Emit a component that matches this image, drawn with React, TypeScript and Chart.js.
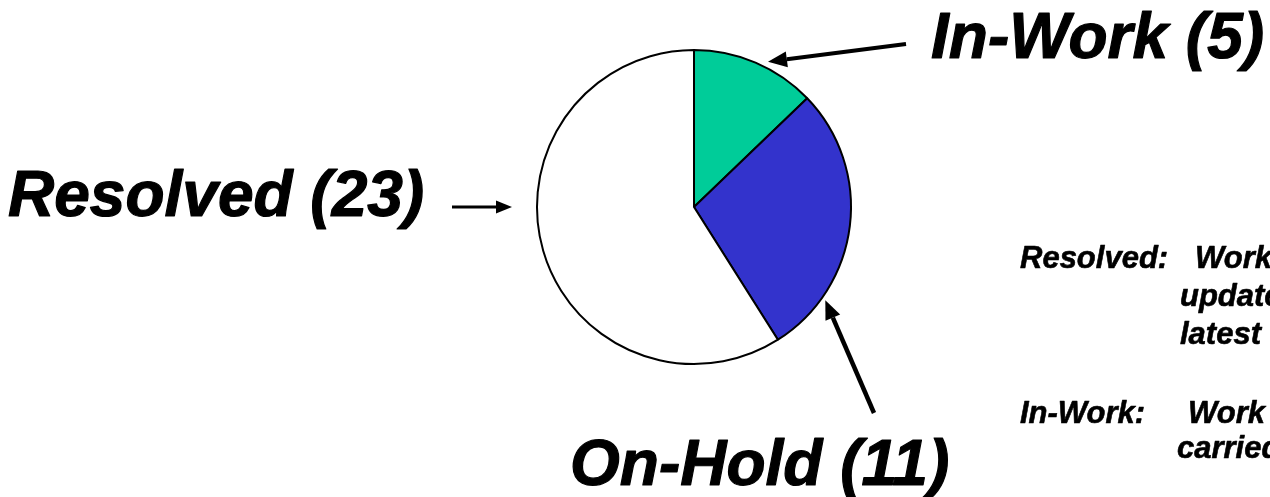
import React, { useEffect, useRef } from "react";
import { Chart, registerables } from "chart.js";

Chart.register(...registerables);

// ---- data ----
const categories = ["In-Work", "On-Hold", "Resolved"];
const counts = [5, 11, 23];
const sliceColors = ["#00CC99", "#3333CC", "#FFFFFF"];

// side notes (visible portion of the explanation text)
const noteHeads = ["Resolved:", "In-Work:"];
const noteFirstWords = ["Work", "Work"];
const noteContinuations = [["updated", "latest"], ["carried"]];

const W = 1270;
const H = 497;

type Callout = {
  index: number;
  frac: number;
  gap: number;
  tail: [number, number];
  textPos: [number, number];
  lineWidth: number;
  headLen: number;
  headHalf: number;
};

const callouts: Callout[] = [
  { index: 0, frac: 0.585, gap: 6, tail: [906, 44], textPos: [931, 58], lineWidth: 4, headLen: 19, headHalf: 8 },
  { index: 1, frac: 0.78, gap: 4, tail: [874, 413], textPos: [570, 485], lineWidth: 4.5, headLen: 19, headHalf: 8 },
  { index: 2, frac: 0.576, gap: 25, tail: [452, 207], textPos: [8, 216], lineWidth: 3, headLen: 16, headHalf: 6.5 },
];

function drawArrow(ctx: CanvasRenderingContext2D, x0: number, y0: number, x1: number, y1: number, lw: number, hl: number, hh: number) {
  const ang = Math.atan2(y1 - y0, x1 - x0);
  const bx = x1 - Math.cos(ang) * hl;
  const by = y1 - Math.sin(ang) * hl;
  ctx.save();
  ctx.strokeStyle = "#000";
  ctx.fillStyle = "#000";
  ctx.lineWidth = lw;
  ctx.beginPath();
  ctx.moveTo(x0, y0);
  ctx.lineTo(bx, by);
  ctx.stroke();
  ctx.beginPath();
  ctx.moveTo(x1, y1);
  ctx.lineTo(bx + Math.cos(ang + Math.PI / 2) * hh, by + Math.sin(ang + Math.PI / 2) * hh);
  ctx.lineTo(bx + Math.cos(ang - Math.PI / 2) * hh, by + Math.sin(ang - Math.PI / 2) * hh);
  ctx.closePath();
  ctx.fill();
  ctx.restore();
}

function heavyText(ctx: CanvasRenderingContext2D, t: string, x: number, y: number, sw: number) {
  ctx.fillText(t, x, y);
  if (sw > 0) {
    ctx.lineWidth = sw;
    ctx.lineJoin = "round";
    ctx.strokeText(t, x, y);
  }
}

const annotationPlugin = {
  id: "pieAnnotations",
  afterDraw(chart: any) {
    const ctx: CanvasRenderingContext2D = chart.ctx;
    const meta = chart.getDatasetMeta(0);
    callouts.forEach((c) => {
      const arc = meta.data[c.index] as any;
      const { x, y, startAngle, endAngle, outerRadius } = arc.getProps(
        ["x", "y", "startAngle", "endAngle", "outerRadius"],
        true
      );
      const a = startAngle + (endAngle - startAngle) * c.frac;
      const r = outerRadius + c.gap;
      const tx = x + Math.cos(a) * r;
      const ty = y + Math.sin(a) * r;
      drawArrow(ctx, c.tail[0], c.tail[1], tx, ty, c.lineWidth, c.headLen, c.headHalf);
      ctx.save();
      ctx.fillStyle = "#000";
      ctx.strokeStyle = "#000";
      ctx.font = "italic bold 64px 'Liberation Sans', Arial, sans-serif";
      ctx.textBaseline = "alphabetic";
      ctx.textAlign = "left";
      heavyText(ctx, `${categories[c.index]} (${chart.data.datasets[0].data[c.index]})`, c.textPos[0], c.textPos[1], 1.2);
      ctx.restore();
    });

    // side notes
    ctx.save();
    ctx.fillStyle = "#000";
    ctx.strokeStyle = "#000";
    ctx.font = "italic bold 31px 'Liberation Sans', Arial, sans-serif";
    ctx.textAlign = "left";
    const noteTop = [268, 423];
    const firstWordX = [1195, 1188];
    const contX = [1180, 1177];
    const contStep = [38, 35];
    noteHeads.forEach((h, i) => {
      heavyText(ctx, h, 1020, noteTop[i], 0.6);
      heavyText(ctx, noteFirstWords[i], firstWordX[i], noteTop[i], 0.6);
      noteContinuations[i].forEach((t, j) => {
        heavyText(ctx, t, contX[i], noteTop[i] + contStep[i] * (j + 1), 0.6);
      });
    });
    ctx.restore();
  },
};

export default function App() {
  const canvasRef = useRef<HTMLCanvasElement | null>(null);

  useEffect(() => {
    if (!canvasRef.current) return;
    const chart = new Chart(canvasRef.current, {
      type: "pie",
      data: {
        labels: categories,
        datasets: [
          {
            data: counts,
            backgroundColor: sliceColors,
            borderColor: "#000000",
            borderWidth: 2,
            radius: 157,
          } as any,
        ],
      },
      options: {
        responsive: false,
        animation: false,
        layout: {
          padding: { left: 537, right: W - 851, top: 50, bottom: H - 364 },
        },
        plugins: {
          legend: { display: false },
          tooltip: { enabled: false },
          title: { display: false },
        },
      },
      plugins: [annotationPlugin],
    });
    return () => chart.destroy();
  }, []);

  return (
    <div style={{ position: "absolute", left: 0, top: 0, width: W, height: H, background: "#fff" }}>
      <canvas ref={canvasRef} width={W} height={H} style={{ display: "block", width: W, height: H }} />
    </div>
  );
}
